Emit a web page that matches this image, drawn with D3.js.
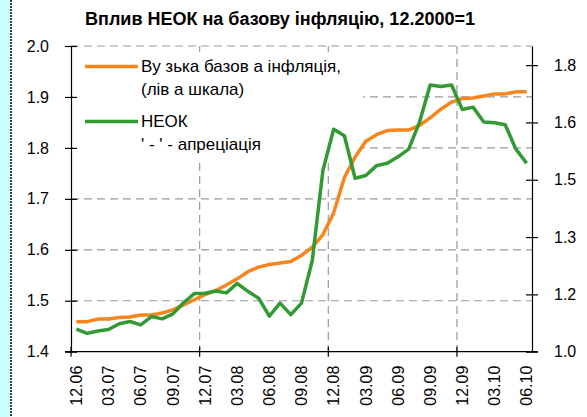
<!DOCTYPE html>
<html>
<head>
<meta charset="utf-8">
<script src="https://cdn.jsdelivr.net/npm/d3@7"></script>
<style>
  body { margin: 0; background: #fff; }
  svg { display: block; font-family: "Liberation Sans", Arial, sans-serif; }
</style>
</head>
<body>
<svg></svg>
<script>
const width = 587;
const height = 417;

// months 12.2006 .. 06.2010
const months = [
  "12.06", "01.07", "02.07", "03.07", "04.07", "05.07", "06.07", "07.07", "08.07", "09.07", "10.07", "11.07",
  "12.07", "01.08", "02.08", "03.08", "04.08", "05.08", "06.08", "07.08", "08.08", "09.08", "10.08", "11.08",
  "12.08", "01.09", "02.09", "03.09", "04.09", "05.09", "06.09", "07.09", "08.09", "09.09", "10.09", "11.09",
  "12.09", "01.10", "02.10", "03.10", "04.10", "05.10", "06.10"
];

// core inflation (left scale)
const coreInfl = [
  1.459, 1.459, 1.464, 1.464, 1.467, 1.468, 1.472, 1.472, 1.476, 1.482, 1.492, 1.502,
  1.512, 1.520, 1.531, 1.543, 1.557, 1.566, 1.571, 1.574, 1.577, 1.589, 1.605, 1.630,
  1.672, 1.742, 1.782, 1.813, 1.826, 1.834, 1.835, 1.835, 1.844, 1.859, 1.876, 1.890,
  1.897, 1.898, 1.902, 1.906, 1.906, 1.910, 1.910
];

// NEER (right scale)
const neer = [
  1.059, 1.048, 1.054, 1.058, 1.073, 1.079, 1.070, 1.092, 1.086, 1.099, 1.128, 1.152,
  1.153, 1.159, 1.154, 1.179, 1.158, 1.140, 1.093, 1.127, 1.097, 1.127, 1.238, 1.475,
  1.582, 1.565, 1.454, 1.461, 1.487, 1.493, 1.510, 1.530, 1.600, 1.698, 1.694, 1.698,
  1.634, 1.640, 1.601, 1.599, 1.594, 1.530, 1.493
];

const leftTicks = [1.4, 1.5, 1.6, 1.7, 1.8, 1.9, 2.0];
const rightTicks = [1.0, 1.15, 1.3, 1.45, 1.6, 1.75];
const rightTickLabels = ["1.0", "1.2", "1.3", "1.5", "1.6", "1.8"];
const labelMonths = months.filter((m, i) => i % 3 === 0);
const yearMonths = ["12.06", "12.07", "12.08", "12.09"];
const gridMonths = ["12.07", "12.08", "12.09"];

const title = "Вплив НЕОК на базову інфляцію, 12.2000=1";
const legendLines = [
  ["Ву зька базов а інфляція,", "(лів а шкала)"],
  ["НЕОК", "' - ' - апреціація"]
];

const orange = "#f7851d";
const green = "#339933";

const svg = d3.select("svg").attr("width", width).attr("height", height);

// left strip
svg.append("rect").attr("x", 0).attr("y", 0).attr("width", 10).attr("height", height).attr("fill", "#ccffff");
svg.append("line").attr("x1", 11).attr("x2", 11).attr("y1", 0).attr("y2", height)
    .attr("stroke", "#000").attr("stroke-dasharray", "2,1").attr("stroke-width", 1.5);

const plotL = 71, plotR = 532, plotT = 46, plotB = 351.7;

const x = d3.scaleBand().domain(months).range([plotL, plotR]).padding(0);
const yL = d3.scaleLinear().domain([1.4, 2.0]).range([plotB, plotT]);
const yR = d3.scaleLinear().domain([1.0, 1.8]).range([plotB, plotT]);

svg.append("text")
    .attr("x", 280).attr("y", 25)
    .attr("text-anchor", "middle")
    .attr("font-weight", "bold")
    .attr("font-size", 18)
    .text(title);

// grid
const grid = svg.append("g").attr("stroke", "#999").attr("stroke-width", 1.2).attr("stroke-dasharray", "8,5");
grid.selectAll("line.h")
    .data(leftTicks.filter(d => d > 1.4))
    .enter().append("line")
    .attr("x1", plotL).attr("x2", plotR)
    .attr("y1", d => yL(d)).attr("y2", d => yL(d));
grid.selectAll("line.v")
    .data(gridMonths)
    .enter().append("line")
    .attr("x1", d => x(d)).attr("x2", d => x(d))
    .attr("y1", plotT).attr("y2", plotB);

// legend box (white, covers the grid)
svg.append("rect").attr("x", plotL + 2).attr("y", 52).attr("width", 290).attr("height", 111).attr("fill", "#fff");

// left axis
const axL = svg.append("g")
    .attr("transform", `translate(${plotL},0)`)
    .call(d3.axisLeft(yL).tickValues(leftTicks).tickFormat(d3.format(".1f")).tickSizeInner(6).tickSizeOuter(0).tickPadding(16));
axL.selectAll(".tick line").attr("x1", 6);

// right axis
const axR = svg.append("g")
    .attr("transform", `translate(${plotR},0)`)
    .call(d3.axisRight(yR).tickValues(rightTicks).tickFormat((d, i) => rightTickLabels[i]).tickSizeInner(6).tickSizeOuter(0).tickPadding(16));
axR.selectAll(".tick line").attr("x1", -6);

// bottom axis: labels at band centres
const axB = svg.append("g")
    .attr("transform", `translate(0,${plotB})`)
    .call(d3.axisBottom(x).tickValues(labelMonths).tickSize(0).tickPadding(0));
axB.select(".domain").remove();
axB.selectAll(".tick text")
    .attr("transform", "rotate(-90)")
    .attr("text-anchor", "end")
    .attr("x", -14).attr("y", 0).attr("dy", "0.36em");

// bottom axis line and year ticks
svg.append("line").attr("x1", plotL - 6).attr("x2", plotR + 6).attr("y1", plotB).attr("y2", plotB)
    .attr("stroke", "#000").attr("stroke-width", 1.2);
svg.selectAll("line.yt")
    .data(yearMonths)
    .enter().append("line")
    .attr("x1", d => x(d)).attr("x2", d => x(d))
    .attr("y1", plotB - 5).attr("y2", plotB + 5)
    .attr("stroke", "#000").attr("stroke-width", 1.2);

svg.selectAll(".tick text").attr("font-size", 16).attr("fill", "#000")
    .attr("font-family", "Liberation Sans, Arial, sans-serif");
svg.selectAll(".domain, .tick line").attr("stroke", "#000").attr("stroke-width", 1.2);

// lines
const lineL = d3.line().x((d, i) => x(months[i]) + x.bandwidth() / 2).y(d => yL(d));
const lineR = d3.line().x((d, i) => x(months[i]) + x.bandwidth() / 2).y(d => yR(d));

svg.append("path").datum(coreInfl).attr("d", lineL)
    .attr("fill", "none").attr("stroke", orange).attr("stroke-width", 3.5).attr("stroke-linejoin", "round");
svg.append("path").datum(neer).attr("d", lineR)
    .attr("fill", "none").attr("stroke", green).attr("stroke-width", 3.5).attr("stroke-linejoin", "round");

// legend
const legend = svg.append("g");
const legendColors = [orange, green];
const legendY = [66.5, 121.5];
legendLines.forEach((lines, k) => {
    legend.append("line")
        .attr("x1", 85).attr("x2", 138)
        .attr("y1", legendY[k]).attr("y2", legendY[k])
        .attr("stroke", legendColors[k]).attr("stroke-width", 3.5);
    lines.forEach((t, j) => {
        legend.append("text")
            .attr("x", 141).attr("y", legendY[k] + 5.5 + j * 23.3)
            .attr("font-size", 17)
            .text(t);
    });
});
</script>
</body>
</html>
